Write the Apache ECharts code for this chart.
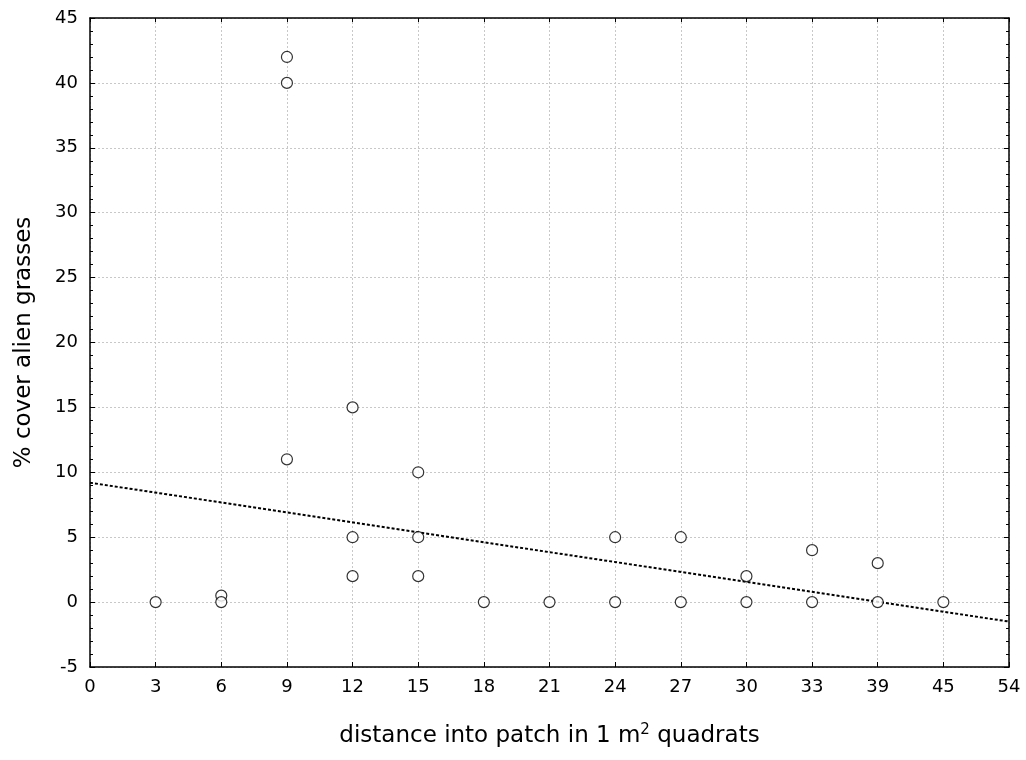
<!DOCTYPE html>
<html>
<head>
    <meta charset="utf-8">
    <script type="text/javascript" src="https://cdn.jsdelivr.net/npm/echarts@6/dist/echarts.min.js"></script>
    <style type="text/css">
        *{
            margin: 0;
            padding: 0;
        }
        #main{
            width: 1026px;
            height: 760px;
        }
    </style>
</head>
<body>
<div id="main"></div>
<script type="text/javascript">
    // x axis labels are evenly spaced, so points sit on the label index
    var xLabels = ['0', '3', '6', '9', '12', '15', '18', '21', '24', '27', '30', '33', '39', '45', '54'];

    // observations: distance (m) and % cover
    var obsDist = [3, 6, 6, 9, 9, 9, 12, 12, 12, 15, 15, 15, 18, 21, 24, 24, 27, 27, 30, 30, 33, 33, 39, 39, 45];
    var obsCover = [0, 0.5, 0, 42, 40, 11, 15, 5, 2, 10, 5, 2, 0, 0, 5, 0, 5, 0, 2, 0, 4, 0, 3, 0, 0];

    // fitted line, read at the two plot edges
    var fitDist = ['0', '54'];
    var fitCover = [9.2, -1.5];

    var points = obsDist.map(function (d, i) {
        return [xLabels.indexOf(String(d)), obsCover[i]];
    });
    var fitLine = fitDist.map(function (d, i) {
        return [xLabels.indexOf(d), fitCover[i]];
    });

    var font = 'DejaVu Sans, sans-serif';
    var black = '#000';
    var grid = {color: '#c8c8c8', type: [2, 2]};

    var myChart = echarts.init(document.getElementById('main'));
    var option = {
        backgroundColor: '#ffffff',
        animation: false,
        grid: {
            left: 90,
            right: 17,
            top: 18,
            bottom: 93
        },
        xAxis: [
            {
                type: 'value',
                min: 0,
                max: 14,
                interval: 1,
                name: 'distance into patch in 1 m{sup|2} quadrats',
                nameLocation: 'middle',
                nameGap: 56,
                nameTextStyle: {
                    color: black,
                    fontSize: 23,
                    fontFamily: font,
                    rich: {
                        sup: {
                            fontSize: 15,
                            verticalAlign: 'top',
                            padding: [0, 0, 12, 0],
                            color: black,
                            fontFamily: font
                        }
                    }
                },
                axisLine: {onZero: false, lineStyle: {color: black, width: 1.5}},
                axisTick: {inside: true, length: 5, lineStyle: {color: black}},
                axisLabel: {
                    color: black,
                    fontSize: 18,
                    fontFamily: font,
                    margin: 11,
                    formatter: function (v) { return xLabels[v]; }
                },
                splitLine: {lineStyle: grid}
            },
            {
                type: 'value',
                position: 'top',
                min: 0,
                max: 14,
                interval: 1,
                axisLine: {show: true, onZero: false, lineStyle: {color: black, width: 1.5}},
                axisTick: {show: true, inside: true, length: 4, lineStyle: {color: black}},
                axisLabel: {show: false},
                splitLine: {show: false}
            }
        ],
        yAxis: [
            {
                type: 'value',
                min: -5,
                max: 45,
                interval: 5,
                name: '% cover alien grasses',
                nameLocation: 'middle',
                nameGap: 54,
                nameTextStyle: {color: black, fontSize: 23, fontFamily: font},
                axisLine: {show: true, onZero: false, lineStyle: {color: black, width: 1.5}},
                axisTick: {show: true, inside: true, length: 5, lineStyle: {color: black}},
                minorTick: {show: true, splitNumber: 5, length: 3, lineStyle: {color: black}},
                axisLabel: {color: black, fontSize: 18, fontFamily: font, margin: 12},
                splitLine: {lineStyle: grid}
            },
            {
                type: 'value',
                position: 'right',
                min: -5,
                max: 45,
                interval: 5,
                axisLine: {show: true, onZero: false, lineStyle: {color: black, width: 1.5}},
                axisTick: {show: true, inside: true, length: 5, lineStyle: {color: black}},
                minorTick: {show: true, splitNumber: 5, length: 3, lineStyle: {color: black}},
                axisLabel: {show: false},
                splitLine: {show: false}
            }
        ],
        series: [
            {
                name: 'fit',
                type: 'line',
                data: fitLine,
                symbol: 'none',
                lineStyle: {color: black, width: 2, type: [3, 2]},
                z: 2
            },
            {
                name: 'cover',
                type: 'scatter',
                data: points,
                symbol: 'circle',
                symbolSize: 11,
                itemStyle: {color: '#ffffff', borderColor: black, borderWidth: 1.2},
                z: 3
            }
        ]
    };
    myChart.setOption(option);
</script>
</body>
</html>
